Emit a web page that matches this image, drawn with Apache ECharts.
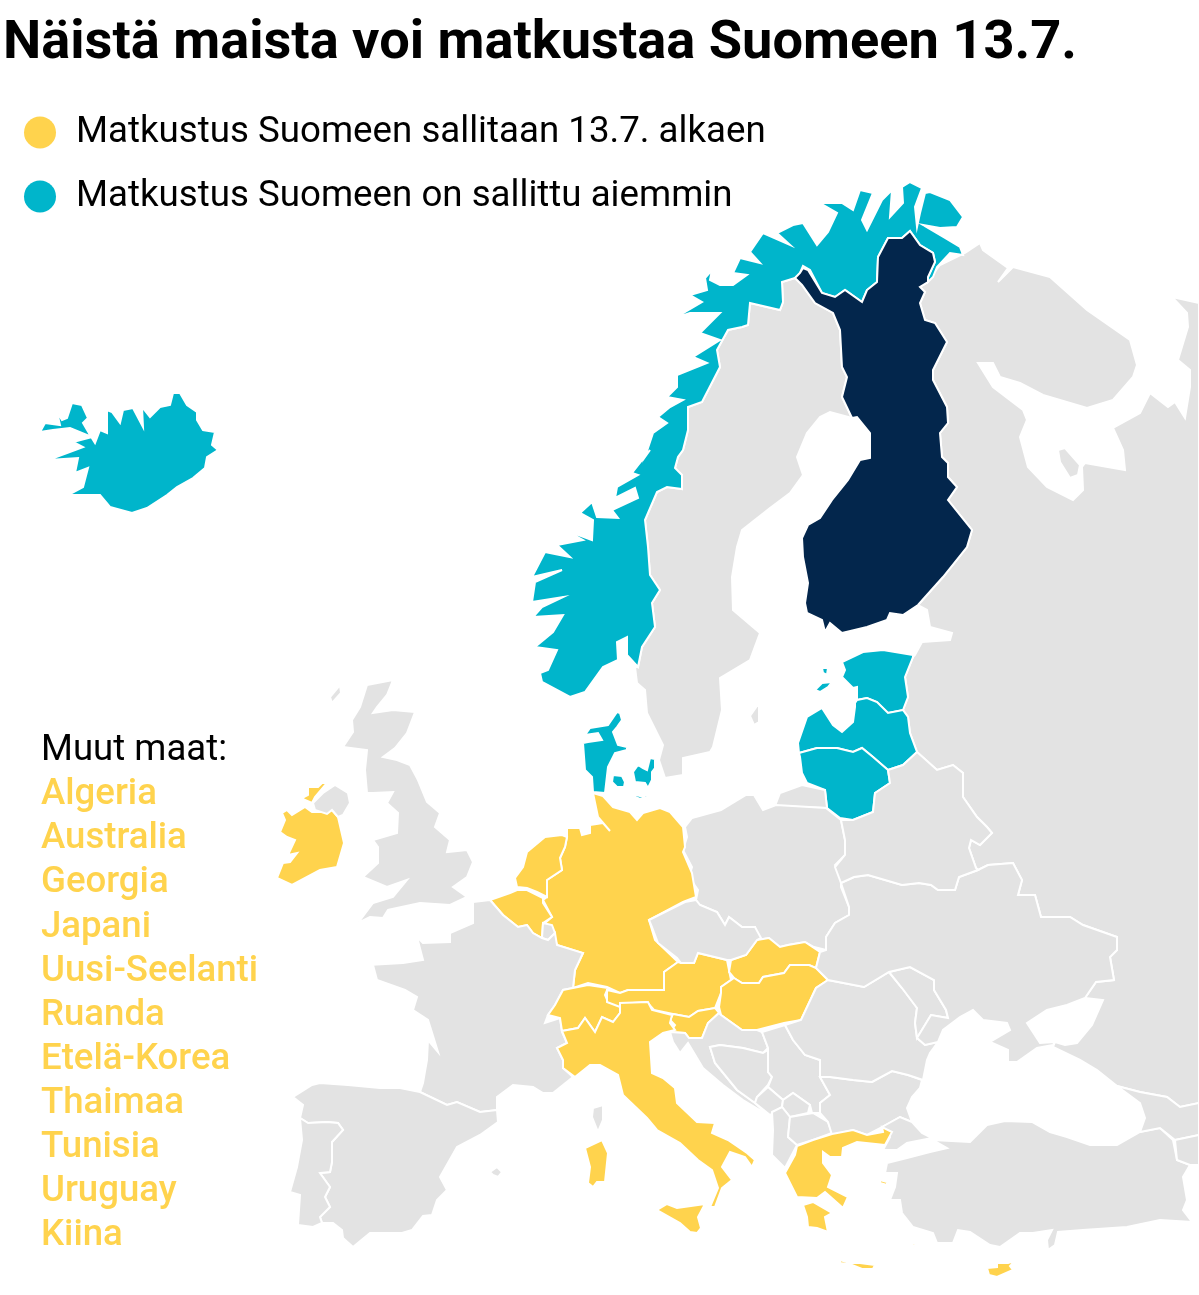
<!DOCTYPE html>
<html>
<head>
<meta charset="utf-8">
<title>Matkustus Suomeen</title>
<script src="https://cdn.jsdelivr.net/npm/echarts@6/dist/echarts.min.js"></script>
<style>
  html, body { margin: 0; padding: 0; background: #fff; }
  #chart { width: 1199px; height: 1295px; }
</style>
</head>
<body>
<div id="chart"></div>
<script>
// Otsikko ja selitteet
const chartTitle = 'Näistä maista voi matkustaa Suomeen 13.7.'
const legendNames = ['Matkustus Suomeen sallitaan 13.7. alkaen', 'Matkustus Suomeen on sallittu aiemmin']
const otherTitle = 'Muut maat:'
const otherCountries = ['Algeria', 'Australia', 'Georgia', 'Japani', 'Uusi-Seelanti', 'Ruanda', 'Etelä-Korea', 'Thaimaa', 'Tunisia', 'Uruguay', 'Kiina']

// Maaryhmät
const homeCountry = ['Suomi']
const allowedFrom137 = ['Irlanti', 'Alankomaat', 'Belgia', 'Saksa', 'Sveitsi', 'Itävalta', 'Slovenia', 'Slovakia', 'Unkari', 'Italia', 'Kreikka', 'Kypros']
const allowedEarlier = ['Norja', 'Islanti', 'Tanska', 'Viro', 'Latvia', 'Liettua']
const noTravel = ['Ruotsi', 'Venäjä', 'Kaliningrad', 'Britannia', 'Ranska', 'Luxemburg', 'Espanja', 'Portugali', 'Puola', 'Tšekki', 'Valko-Venäjä', 'Ukraina', 'Moldova', 'Romania', 'Bulgaria', 'Serbia', 'Kroatia', 'Bosnia', 'Montenegro', 'Kosovo', 'Albania', 'Pohjois-Makedonia', 'Turkki', 'Georgia', 'Armenia']

// Maiden ääriviivat kartan omassa koordinaatistossa
const outlines = {
  'Venäjä': [[[927,610],[930,627],[952,633],[950,640],[922,642],[915,655],[913,657],[905,677],[908,697],[903,710],[908,717],[910,733],[917,752],[937,770],[953,765],[963,773],[963,797],[977,817],[987,827],[992,833],[980,845],[971,840],[969,848],[976,868],[978,870],[988,865],[1013,863],[1022,880],[1018,895],[1035,895],[1041,917],[1070,917],[1083,925],[1117,937],[1117,950],[1110,957],[1114,980],[1096,982],[1085,998],[1103,1000],[1092,1025],[1077,1043],[1065,1045],[1055,1042],[1053,1047],[1080,1060],[1097,1070],[1117,1086],[1140,1092],[1167,1097],[1180,1107],[1199,1103],[1199,303],[1172,297],[1187,313],[1188,327],[1178,360],[1190,370],[1190,387],[1185,418],[1175,402],[1168,407],[1150,393],[1140,413],[1113,428],[1123,450],[1125,470],[1085,463],[1082,467],[1083,490],[1073,500],[1047,487],[1028,467],[1020,437],[1027,420],[1023,410],[993,387],[978,363],[993,363],[1000,377],[1020,383],[1043,395],[1087,408],[1113,400],[1133,377],[1137,365],[1130,340],[1087,310],[1050,277],[1013,267],[998,282],[1008,268],[983,250],[980,243],[965,253],[940,265],[930,278],[928,282],[920,287],[925,292],[920,303],[925,320],[935,323],[947,342],[933,370],[933,380],[947,407],[948,423],[940,433],[942,457],[948,463],[948,477],[957,487],[948,500],[972,530],[967,547],[943,577],[918,605]],
    [[1058,450],[1065,448],[1080,465],[1078,475],[1070,478],[1060,462]]],
  'Ruotsi': [[[795,278],[802,285],[815,303],[833,313],[840,330],[842,367],[847,377],[842,397],[852,418],[830,412],[820,417],[807,433],[797,457],[803,475],[790,493],[770,508],[742,530],[737,547],[732,577],[733,610],[760,633],[750,660],[720,678],[722,710],[713,747],[710,752],[683,758],[683,775],[665,778],[659,760],[663,745],[647,713],[645,690],[637,683],[635,667],[638,667],[642,647],[655,627],[652,603],[660,590],[650,575],[648,547],[645,520],[657,492],[667,487],[682,489],[682,475],[675,468],[678,457],[683,450],[688,430],[688,407],[702,402],[720,367],[717,350],[728,330],[742,327],[748,325],[750,303],[780,310],[783,302],[782,282]],
    [[750,716],[757,706],[759,706],[759,722],[754,725]]],
  'Norja': [[[963,217],[950,200],[930,192],[925,193],[920,213],[917,227],[915,207],[922,188],[910,182],[902,187],[903,203],[890,217],[892,190],[882,200],[867,230],[862,220],[873,193],[860,190],[853,210],[842,203],[830,203],[820,203],[837,213],[828,232],[817,245],[803,223],[793,225],[777,233],[790,245],[763,233],[750,252],[760,263],[740,258],[733,273],[747,275],[733,285],[720,285],[710,280],[712,270],[705,278],[707,290],[690,295],[702,302],[675,318],[690,313],[720,313],[700,333],[720,340],[693,357],[707,363],[677,375],[677,387],[667,397],[683,400],[670,407],[658,417],[667,423],[653,433],[645,457],[650,450],[632,473],[638,475],[617,487],[615,498],[635,488],[638,498],[612,510],[618,518],[597,517],[592,502],[580,513],[593,520],[592,540],[565,530],[583,540],[557,545],[570,557],[545,552],[532,577],[562,570],[535,582],[532,602],[563,597],[542,607],[533,617],[563,615],[553,632],[535,647],[557,650],[548,670],[540,673],[542,682],[570,697],[585,692],[603,667],[618,660],[617,642],[627,637],[627,655],[638,667],[642,647],[655,627],[652,603],[660,590],[650,575],[648,547],[645,520],[657,492],[667,487],[682,489],[682,475],[675,468],[678,457],[683,450],[688,430],[688,407],[702,402],[720,367],[717,350],[728,330],[742,327],[748,325],[750,303],[780,310],[783,302],[782,282],[795,278],[800,273],[803,266],[810,270],[822,293],[835,297],[845,290],[862,302],[867,290],[877,282],[878,257],[888,238],[902,238],[910,231],[920,245],[933,253],[935,262],[928,277],[928,282],[933,277],[937,267],[950,253],[963,255],[960,247],[945,238],[923,225],[940,228],[957,227]]],
  'Suomi': [[[910,231],[920,245],[933,253],[935,262],[928,277],[928,282],[920,287],[925,292],[920,303],[925,320],[935,323],[947,342],[933,370],[933,380],[947,407],[948,423],[940,433],[942,457],[948,463],[948,477],[957,487],[948,500],[972,530],[967,547],[943,577],[918,605],[903,615],[890,613],[887,620],[867,627],[842,633],[830,623],[825,632],[822,620],[807,613],[805,603],[808,583],[803,557],[802,538],[808,525],[820,518],[832,500],[848,480],[860,460],[870,458],[870,433],[857,417],[852,418],[842,397],[847,377],[842,367],[840,330],[833,313],[815,303],[802,285],[795,278],[800,273],[803,268],[808,270],[822,293],[835,297],[845,290],[862,302],[867,290],[877,282],[878,257],[888,238],[902,238]]],
  'Islanti': [[[132,513],[110,507],[100,495],[68,495],[83,487],[88,468],[75,473],[78,458],[48,460],[67,453],[83,447],[73,442],[92,437],[70,428],[53,430],[40,432],[45,423],[60,425],[57,412],[62,420],[67,418],[72,403],[82,405],[88,418],[83,423],[90,435],[95,443],[100,430],[107,433],[107,410],[112,412],[120,423],[123,410],[133,408],[143,427],[142,407],[150,417],[160,407],[170,405],[173,393],[180,393],[187,405],[197,412],[197,420],[203,430],[215,432],[212,445],[218,450],[207,457],[205,468],[193,478],[177,487],[167,495],[147,508]]],
  'Tanska': [[[620,713],[617,712],[608,725],[590,728],[585,735],[598,733],[602,740],[588,742],[583,743],[585,770],[592,777],[593,792],[605,793],[608,767],[615,753],[627,750],[627,747],[618,745],[613,732],[617,727],[622,720]],
    [[613,775],[622,776],[625,782],[624,787],[617,787],[612,782]],
    [[650,758],[655,759],[655,768],[652,772],[652,780],[648,788],[645,783],[635,782],[633,772],[638,765],[643,768],[647,770]],
    [[633,794],[643,797],[648,793],[647,797],[640,799],[633,796]],
    [[693,784],[697,787],[695,788]]],
  'Viro': [[[913,655],[883,650],[863,652],[842,662],[845,670],[842,677],[853,688],[857,687],[857,700],[867,698],[877,702],[888,713],[903,710],[908,697],[905,677],[913,657]],
    [[815,690],[822,683],[832,682],[828,687],[820,692]],
    [[822,668],[828,668],[827,675],[823,673]]],
  'Latvia': [[[855,703],[857,700],[867,698],[877,702],[888,713],[903,710],[908,717],[910,733],[917,752],[903,765],[888,770],[873,757],[862,748],[853,752],[837,748],[817,748],[799,753],[798,743],[807,717],[822,708],[833,725],[842,732],[853,722],[855,707]]],
  'Liettua': [[[799,753],[817,748],[837,748],[853,752],[862,748],[873,757],[888,770],[890,783],[875,793],[873,812],[853,820],[840,818],[827,808],[825,790],[807,783],[802,773],[800,757]]],
  'Kaliningrad': [[[780,793],[802,785],[825,790],[827,808],[775,806]]],
  'Puola': [[[692,818],[721,810],[746,795],[754,795],[763,810],[776,805],[826,808],[841,820],[845,840],[845,855],[835,865],[841,873],[841,887],[849,907],[849,915],[835,923],[826,937],[826,950],[814,947],[805,942],[788,945],[780,947],[769,938],[757,940],[755,927],[742,927],[729,917],[725,925],[717,912],[700,905],[696,900],[698,890],[689,877],[692,867],[683,850],[687,837],[685,827]]],
  'Saksa': [[[593,793],[603,796],[613,807],[630,812],[637,820],[643,813],[660,808],[670,812],[683,827],[685,847],[683,852],[692,873],[696,897],[683,902],[649,920],[655,940],[678,962],[664,972],[664,990],[641,990],[628,990],[620,993],[607,987],[588,983],[573,988],[575,970],[583,953],[557,945],[553,933],[545,923],[552,917],[543,900],[547,897],[547,880],[562,870],[560,858],[565,847],[567,837],[567,828],[580,828],[582,835],[590,833],[590,825],[603,823],[610,831],[598,817]]],
  'Alankomaat': [[[567,837],[562,835],[545,837],[527,852],[523,867],[515,878],[517,887],[527,888],[537,892],[547,897],[547,880],[562,870],[560,858],[565,847]]],
  'Belgia': [[[490,900],[510,893],[517,890],[527,890],[543,898],[543,903],[552,917],[543,923],[542,938],[533,933],[527,925],[518,927],[503,915]]],
  'Luxemburg': [[[543,923],[552,925],[555,933],[548,940],[542,938]]],
  'Irlanti': [[[287,810],[292,815],[305,807],[312,812],[327,812],[332,810],[338,817],[344,843],[337,867],[320,870],[292,885],[277,878],[283,863],[290,862],[297,853],[288,855],[295,840],[287,837],[280,832],[285,820],[282,813]],
    [[308,787],[318,787],[322,783],[327,783],[315,797],[312,803],[305,800],[302,798],[308,795]]],
  'Britannia': [[[393,680],[367,685],[360,707],[352,720],[353,732],[343,747],[367,750],[365,770],[367,793],[373,793],[393,792],[387,803],[398,813],[397,833],[373,840],[378,847],[378,863],[363,877],[387,887],[407,880],[393,897],[373,903],[358,923],[370,917],[383,918],[388,910],[420,903],[450,905],[467,897],[453,887],[467,877],[473,862],[467,850],[447,852],[450,840],[435,827],[440,813],[427,802],[418,780],[410,765],[397,760],[383,757],[395,748],[407,733],[415,712],[393,710],[373,713],[377,707],[387,695]],
    [[313,803],[323,793],[335,785],[348,793],[350,803],[343,815],[338,817],[332,810],[327,814],[315,810]],
    [[340,685],[341,693],[332,703],[330,697]]],
  'Ranska': [[[490,900],[503,915],[518,927],[527,925],[533,933],[542,938],[548,940],[555,933],[557,945],[583,953],[575,970],[573,988],[563,990],[555,1005],[548,1015],[545,1023],[560,1018],[562,1032],[567,1043],[557,1048],[563,1060],[563,1068],[573,1077],[553,1093],[543,1093],[533,1087],[513,1085],[497,1097],[497,1110],[480,1112],[457,1102],[447,1105],[420,1092],[423,1083],[427,1060],[428,1040],[438,1052],[428,1020],[413,1010],[417,997],[405,990],[377,980],[373,965],[368,965],[403,963],[423,960],[417,937],[423,943],[450,942],[450,933],[473,923],[473,902]],
    [[603,1105],[593,1108],[592,1117],[598,1132],[603,1120]]],
  'Espanja': [[[420,1092],[400,1088],[380,1088],[348,1085],[320,1083],[312,1085],[293,1097],[303,1105],[300,1118],[308,1123],[327,1122],[338,1123],[343,1130],[332,1142],[332,1162],[330,1172],[320,1173],[330,1187],[325,1197],[330,1207],[320,1217],[322,1223],[333,1223],[342,1230],[343,1238],[353,1247],[370,1233],[402,1233],[412,1230],[423,1216],[432,1215],[437,1200],[447,1190],[440,1177],[457,1147],[480,1135],[498,1122],[497,1110],[480,1112],[457,1102],[447,1105]],
    [[490,1172],[497,1167],[502,1172],[498,1177],[493,1175]]],
  'Portugali': [[[308,1123],[300,1118],[302,1140],[297,1167],[290,1192],[300,1195],[298,1225],[313,1227],[322,1223],[320,1217],[330,1207],[325,1197],[330,1187],[320,1173],[330,1172],[332,1162],[332,1142],[343,1130],[338,1123],[327,1122]]],
  'Sveitsi': [[[573,988],[588,985],[608,988],[605,995],[608,1002],[622,1003],[620,1013],[613,1022],[602,1017],[595,1032],[585,1018],[578,1028],[562,1031],[560,1018],[548,1015],[555,1005],[563,990]]],
  'Itävalta': [[[607,990],[607,1002],[620,1007],[630,1008],[633,1003],[647,1002],[654,1010],[673,1014],[689,1017],[698,1011],[715,1008],[721,993],[721,987],[731,980],[727,960],[698,953],[694,963],[681,963],[678,962],[664,972],[664,990],[641,990],[628,990],[620,993]]],
  'Slovenia': [[[673,1014],[689,1017],[698,1011],[715,1008],[719,1013],[708,1023],[702,1038],[689,1038],[685,1033],[670,1032],[675,1025],[670,1020]]],
  'Slovakia': [[[731,960],[746,955],[757,940],[769,938],[780,947],[788,945],[805,942],[820,952],[816,968],[809,965],[790,965],[784,973],[763,977],[759,983],[742,983],[734,978],[729,972]]],
  'Unkari': [[[734,978],[742,983],[759,983],[763,977],[784,973],[790,965],[809,965],[816,968],[828,980],[816,988],[801,1020],[784,1023],[757,1030],[742,1030],[721,1015],[719,1007],[721,993],[721,987]]],
  'Tšekki': [[[649,920],[685,902],[696,900],[700,905],[717,912],[725,925],[729,917],[742,927],[755,927],[761,938],[757,940],[746,955],[731,960],[727,960],[698,953],[694,963],[681,963],[677,958],[658,943],[652,927]]],
  'Italia': [[[562,1031],[578,1028],[585,1018],[595,1032],[602,1017],[613,1022],[620,1013],[620,1003],[648,1002],[652,1010],[672,1015],[670,1023],[675,1030],[663,1033],[650,1042],[652,1073],[663,1078],[675,1088],[677,1103],[697,1122],[715,1123],[712,1133],[728,1140],[747,1153],[755,1160],[752,1167],[745,1157],[730,1152],[722,1167],[732,1180],[722,1188],[715,1207],[710,1207],[718,1188],[712,1170],[698,1160],[680,1143],[657,1130],[647,1118],[623,1095],[618,1075],[600,1065],[590,1065],[575,1077],[563,1068],[563,1060],[557,1048],[567,1043]],
    [[602,1140],[585,1148],[590,1167],[588,1183],[593,1187],[597,1182],[605,1182],[608,1153]],
    [[657,1210],[667,1204],[677,1208],[705,1204],[698,1217],[701,1228],[697,1233],[690,1232],[680,1223]]],
  'Kroatia': [[[670,1032],[685,1033],[689,1038],[702,1038],[708,1023],[719,1013],[721,1015],[742,1030],[757,1030],[762,1032],[768,1048],[763,1053],[743,1048],[720,1045],[710,1047],[715,1063],[737,1090],[755,1103],[768,1115],[743,1100],[723,1085],[703,1068],[688,1043],[680,1053],[673,1042]]],
  'Bosnia': [[[710,1047],[720,1045],[743,1048],[763,1053],[768,1050],[768,1055],[768,1072],[772,1077],[768,1085],[757,1097],[755,1103],[737,1090],[715,1063]]],
  'Serbia': [[[762,1032],[785,1025],[793,1040],[805,1055],[820,1060],[820,1077],[830,1095],[820,1103],[820,1113],[812,1113],[810,1105],[793,1093],[783,1100],[768,1087],[772,1077],[768,1072],[768,1048]]],
  'Montenegro': [[[768,1087],[783,1100],[782,1107],[770,1115],[755,1103],[757,1097]]],
  'Kosovo': [[[783,1100],[793,1093],[810,1105],[808,1113],[790,1117],[782,1107]]],
  'Albania': [[[772,1112],[782,1107],[790,1117],[788,1137],[797,1145],[785,1168],[772,1155],[773,1130]]],
  'Pohjois-Makedonia': [[[790,1117],[813,1113],[828,1122],[832,1133],[813,1140],[797,1145],[788,1137]]],
  'Bulgaria': [[[830,1077],[853,1080],[872,1082],[892,1071],[908,1075],[922,1080],[920,1088],[912,1097],[907,1108],[912,1122],[900,1117],[882,1127],[867,1135],[853,1130],[832,1135],[828,1122],[820,1113],[820,1103],[830,1095],[820,1077]]],
  'Romania': [[[785,1025],[801,1020],[816,988],[828,980],[864,987],[889,972],[902,988],[917,1008],[915,1023],[917,1038],[925,1045],[938,1042],[930,1053],[927,1060],[923,1080],[908,1075],[892,1071],[872,1082],[853,1080],[830,1077],[820,1077],[820,1060],[805,1055],[793,1040]]],
  'Moldova': [[[889,972],[910,967],[934,980],[934,990],[946,1010],[948,1018],[931,1015],[917,1038],[915,1023],[917,1008],[902,988]]],
  'Ukraina': [[[841,883],[854,877],[868,875],[902,885],[919,883],[931,885],[938,890],[955,890],[959,877],[978,870],[988,865],[1013,863],[1022,880],[1018,895],[1035,895],[1041,917],[1070,917],[1083,925],[1117,937],[1117,950],[1110,957],[1114,980],[1096,982],[1085,998],[1067,1005],[1047,1010],[1027,1023],[1040,1043],[1055,1042],[1053,1045],[1037,1048],[1017,1062],[1008,1062],[1008,1050],[990,1042],[1010,1030],[1007,1023],[983,1020],[973,1010],[960,1017],[943,1030],[938,1042],[925,1045],[917,1038],[931,1015],[948,1018],[946,1010],[934,990],[934,980],[910,967],[889,972],[864,987],[828,980],[816,968],[820,952],[826,950],[826,937],[835,923],[849,915],[849,907]]],
  'Valko-Venäjä': [[[873,812],[875,793],[890,783],[888,770],[903,765],[917,752],[937,770],[953,765],[963,773],[963,797],[977,817],[987,827],[992,833],[980,845],[971,840],[969,848],[976,868],[978,870],[959,877],[955,890],[938,890],[931,885],[919,883],[902,885],[868,875],[854,877],[841,883],[835,867],[845,855],[845,840],[841,820],[853,820]]],
  'Turkki': [[[882,1127],[900,1117],[912,1122],[922,1133],[932,1138],[907,1143],[897,1150],[883,1150],[890,1137]],
    [[947,1148],[933,1140],[970,1142],[987,1125],[1005,1121],[1032,1122],[1050,1132],[1067,1137],[1090,1145],[1117,1145],[1140,1132],[1160,1128],[1173,1140],[1177,1160],[1190,1165],[1183,1177],[1187,1200],[1183,1210],[1192,1222],[1160,1220],[1127,1227],[1083,1230],[1058,1232],[1055,1245],[1048,1250],[1047,1240],[1052,1230],[1033,1233],[1020,1233],[1000,1247],[990,1245],[970,1232],[958,1230],[953,1243],[937,1243],[933,1233],[913,1227],[902,1213],[900,1200],[890,1200],[895,1187],[897,1173],[885,1173],[887,1163],[907,1158],[930,1152]]],
  'Georgia': [[[1117,1086],[1140,1092],[1167,1097],[1180,1107],[1199,1103],[1199,1135],[1175,1140],[1160,1128],[1140,1132],[1145,1118],[1140,1103]]],
  'Armenia': [[[1175,1140],[1199,1135],[1199,1165],[1190,1165],[1177,1160]]],
  'Kreikka': [[[797,1146],[813,1140],[832,1134],[853,1130],[867,1135],[883,1132],[882,1127],[892,1132],[885,1145],[857,1142],[843,1148],[842,1157],[830,1157],[823,1152],[823,1163],[832,1175],[828,1187],[848,1197],[843,1208],[825,1192],[817,1198],[797,1197],[785,1173],[795,1155]],
    [[803,1205],[813,1202],[832,1213],[825,1217],[828,1232],[817,1228],[808,1227],[807,1217]],
    [[840,1260],[850,1263],[860,1263],[875,1265],[873,1269],[862,1269],[852,1265],[840,1263]],
    [[880,1180],[887,1182],[887,1185],[880,1183]],
    [[913,1243],[916,1243],[912,1250]]],
  'Kypros': [[[987,1268],[997,1267],[997,1263],[1008,1263],[1015,1261],[1010,1266],[1013,1270],[997,1277],[989,1275]]]
}

const GREY = '#e3e3e3'
const YELLOW = '#ffd34d'
const TEAL = '#00b5cb'
const NAVY = '#03264c'

echarts.registerMap('eurooppa', {
  type: 'FeatureCollection',
  features: Object.keys(outlines).map(function (name) {
    return {
      type: 'Feature',
      properties: { name: name },
      geometry: {
        type: 'MultiPolygon',
        coordinates: outlines[name].map(function (ring) { return [ring] })
      }
    }
  })
})

function regionData(names, value, color) {
  return names.map(function (name) {
    return { name: name, value: value, itemStyle: { areaColor: color } }
  })
}

const chart = echarts.init(document.getElementById('chart'))

chart.setOption({
  animation: false,
  backgroundColor: '#fff',
  title: [{
    text: chartTitle,
    left: 3,
    top: 17,
    padding: 0,
    textStyle: { fontFamily: 'Roboto', fontSize: 54.2, fontWeight: 700, color: '#000' }
  }, {
    text: '{h|' + otherTitle + '}\n' + otherCountries.map(function (n) { return '{c|' + n + '}' }).join('\n'),
    left: 41,
    top: 729,
    padding: 0,
    textStyle: {
      rich: {
        h: { fontFamily: 'Roboto', fontSize: 36.6, fontWeight: 400, color: '#000', lineHeight: 44.1 },
        c: { fontFamily: 'Roboto', fontSize: 36.6, fontWeight: 500, color: YELLOW, lineHeight: 44.1 }
      }
    }
  }],
  legend: {
    data: legendNames,
    orient: 'vertical',
    left: 24,
    top: 114,
    padding: 0,
    icon: 'circle',
    itemWidth: 32,
    itemHeight: 32,
    itemGap: 27,
    selectedMode: false,
    textStyle: { fontFamily: 'Roboto', fontSize: 36.7, color: '#000', padding: [0, 0, 0, 15] }
  },
  series: [{
    type: 'map',
    map: 'eurooppa',
    silent: true,
    showLegendSymbol: false,
    projection: {
      project: function (p) { return p },
      unproject: function (p) { return p }
    },
    boundingCoords: [[0, 0], [1199, 1295]],
    left: 0,
    top: 0,
    width: 1199,
    height: 1295,
    label: { show: false },
    emphasis: { disabled: true },
    select: { disabled: true },
    itemStyle: { areaColor: GREY, borderColor: '#fff', borderWidth: 2 },
    data: regionData(noTravel, 0, GREY)
      .concat(regionData(allowedEarlier, 2, TEAL))
      .concat(regionData(allowedFrom137, 1, YELLOW))
      .concat(regionData(homeCountry, 3, NAVY))
  }, {
    name: legendNames[0],
    type: 'pie',
    radius: 0,
    silent: true,
    label: { show: false },
    itemStyle: { color: YELLOW },
    data: []
  }, {
    name: legendNames[1],
    type: 'pie',
    radius: 0,
    silent: true,
    label: { show: false },
    itemStyle: { color: TEAL },
    data: []
  }]
})
</script>
</body>
</html>
